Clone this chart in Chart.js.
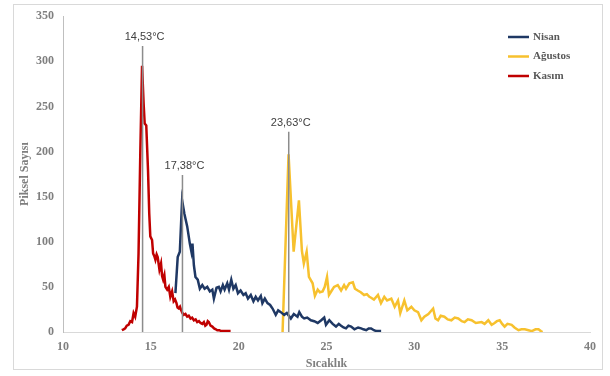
<!DOCTYPE html>
<html>
<head>
<meta charset="utf-8">
<script src="https://cdn.jsdelivr.net/npm/chart.js@4.4.0/dist/chart.umd.min.js"></script>
<style>
  html, body { margin: 0; padding: 0; background: #fff; }
  canvas { display: block; }
</style>
</head>
<body>
<canvas id="chart" width="610" height="376"></canvas>
<script>
// Kasım
const kasimTemp = [13.35, 13.45, 13.54, 13.63, 13.73, 13.83, 13.93, 14.02, 14.11, 14.21, 14.30, 14.40, 14.50, 14.59, 14.65, 14.74, 14.84, 14.91, 14.97, 15.07, 15.13, 15.20, 15.26, 15.33, 15.39, 15.49, 15.58, 15.64, 15.70, 15.77, 15.83, 15.93, 16.02, 16.11, 16.21, 16.30, 16.38, 16.46, 16.52, 16.59, 16.66, 16.73, 16.80, 16.87, 16.97, 17.07, 17.16, 17.26, 17.35, 17.45, 17.55, 17.64, 17.74, 17.83, 17.93, 18.02, 18.10, 18.17, 18.24, 18.30, 18.40, 18.50, 18.60, 18.70, 18.78, 18.90, 19.00, 19.16, 19.35, 19.54];
const kasimCount = [2, 3, 4, 7, 8, 12, 11, 21, 17, 28, 87, 198, 295, 253, 231, 229, 179, 131, 106, 102, 87, 84, 80, 86, 83, 69, 76, 62, 58, 63, 50, 47, 50, 39, 45, 34, 36, 32, 27, 26, 28, 24, 21, 19, 20, 17, 18, 15, 16, 13, 14, 11, 12, 10, 9, 11, 7, 8, 12, 11, 7, 6, 4, 3, 2, 2, 1, 1, 1, 1];

// Nisan
const nisanTemp = [16.40, 16.53, 16.65, 16.78, 16.91, 17.07, 17.22, 17.31, 17.37, 17.45, 17.54, 17.67, 17.79, 17.93, 18.06, 18.21, 18.36, 18.50, 18.59, 18.74, 18.87, 18.97, 19.10, 19.20, 19.35, 19.45, 19.58, 19.70, 19.83, 19.96, 20.11, 20.27, 20.40, 20.53, 20.69, 20.84, 20.97, 21.10, 21.26, 21.35, 21.49, 21.64, 21.79, 21.93, 22.11, 22.25, 22.40, 22.59, 22.74, 22.97, 23.14, 23.35, 23.45, 23.60, 23.73, 23.90, 24.11, 24.30, 24.50, 24.70, 24.87, 24.97, 25.16, 25.35, 25.54, 25.70, 25.83, 25.97, 26.11, 26.25, 26.40, 26.59, 26.80, 26.97, 27.10, 27.26, 27.40, 27.54, 27.70, 27.83, 28.11];
const nisanCount = [43, 83, 89, 146, 131, 117, 98, 89, 98, 74, 61, 58, 48, 52, 48, 50, 45, 47, 37, 49, 50, 45, 52, 47, 54, 47, 58, 48, 52, 43, 46, 41, 43, 37, 41, 34, 39, 35, 40, 32, 37, 32, 30, 26, 19, 24, 22, 19, 21, 15, 20, 17, 22, 17, 15, 16, 13, 12, 10, 13, 16, 8, 13, 9, 6, 9, 7, 5, 4, 7, 6, 3, 5, 4, 3, 2, 4, 4, 2, 1, 1];

// Ağustos
const agustosTemp = [22.50, 22.84, 23.13, 23.43, 23.60, 23.71, 23.87, 24.00, 24.21, 24.34, 24.50, 24.62, 24.78, 24.90, 25.03, 25.14, 25.30, 25.43, 25.64, 25.83, 26.00, 26.11, 26.30, 26.50, 26.62, 26.78, 26.95, 27.14, 27.30, 27.44, 27.54, 27.70, 27.93, 28.10, 28.29, 28.45, 28.69, 28.88, 29.07, 29.20, 29.43, 29.60, 29.83, 30.00, 30.21, 30.40, 30.57, 30.80, 31.07, 31.20, 31.35, 31.50, 31.71, 31.90, 32.11, 32.30, 32.50, 32.70, 32.86, 33.05, 33.26, 33.50, 33.83, 34.00, 34.21, 34.40, 34.57, 34.70, 34.86, 35.00, 35.14, 35.30, 35.54, 35.70, 35.93, 36.10, 36.29, 36.50, 36.69, 36.90, 37.07, 37.20, 37.30];
const agustosCount = [0, 197, 89, 146, 90, 76, 89, 61, 54, 40, 47, 44, 45, 50, 61, 41, 46, 50, 52, 46, 52, 48, 54, 55, 48, 46, 44, 41, 42, 39, 38, 36, 41, 32, 39, 35, 37, 28, 35, 21, 35, 24, 28, 24, 22, 13, 17, 20, 26, 15, 13, 18, 17, 14, 13, 16, 15, 12, 11, 14, 13, 10, 11, 9, 13, 8, 10, 12, 13, 9, 6, 9, 8, 5, 2, 3, 3, 2, 1, 3, 3, 1, 0];

const seriesNames = ['Nisan', 'Ağustos', 'Kasım'];
const seriesColors = ['#1f3864', '#f7c12e', '#c00000'];

// peak markers
const peakTemps = [14.53, 16.8, 22.85];
const peakTops = [317, 174, 222];
const peakLabels = ['14,53°C', '17,38°C', '23,63°C'];

const xTicks = [10, 15, 20, 25, 30, 35, 40];
const yTicks = [0, 50, 100, 150, 200, 250, 300, 350];

function toPoints(temps, counts) {
  return temps.map((t, i) => ({ x: t, y: counts[i] }));
}

const markerDatasets = peakTemps.map((t, i) => ({
  label: peakLabels[i],
  data: [{ x: t, y: 0 }, { x: t, y: peakTops[i] }],
  borderColor: '#8c8c8c',
  borderWidth: 1.5,
  pointRadius: 0,
  order: 0,
}));

const seriesData = [toPoints(nisanTemp, nisanCount), toPoints(agustosTemp, agustosCount), toPoints(kasimTemp, kasimCount)];

const seriesDatasets = seriesNames.map((name, i) => ({
  label: name,
  data: seriesData[i],
  borderColor: seriesColors[i],
  borderWidth: 2.5,
  pointRadius: 0,
  tension: 0,
  order: 1 + i,
}));

const framePlugin = {
  id: 'frame',
  beforeDraw(chart) {
    const { ctx } = chart;
    ctx.save();
    ctx.fillStyle = '#ffffff';
    ctx.fillRect(0, 0, chart.width, chart.height);
    ctx.strokeStyle = '#d9d9d9';
    ctx.lineWidth = 1;
    ctx.strokeRect(13.5, 4.5, 589, 365);
    ctx.restore();
  },
};

const peakLabelPlugin = {
  id: 'peakLabels',
  afterDatasetsDraw(chart) {
    const { ctx, scales } = chart;
    ctx.save();
    ctx.font = '11px "Liberation Sans", Arial, sans-serif';
    ctx.fillStyle = '#404040';
    ctx.textAlign = 'center';
    ctx.textBaseline = 'middle';
    peakTemps.forEach((t, i) => {
      const px = scales.x.getPixelForValue(t);
      const py = scales.y.getPixelForValue(peakTops[i]);
      ctx.fillText(peakLabels[i], px + 2, py - 9);
    });
    ctx.restore();
  },
};

const legendPlugin = {
  id: 'sideLegend',
  afterDraw(chart) {
    const { ctx } = chart;
    ctx.save();
    ctx.font = 'bold 11px "Liberation Serif", "DejaVu Serif", serif';
    ctx.textBaseline = 'middle';
    seriesNames.forEach((name, i) => {
      const y = 37 + i * 19.5;
      ctx.strokeStyle = seriesColors[i];
      ctx.lineWidth = 2.5;
      ctx.beginPath();
      ctx.moveTo(508, y);
      ctx.lineTo(529, y);
      ctx.stroke();
      ctx.fillStyle = '#595959';
      ctx.fillText(name, 533, y);
    });
    ctx.restore();
  },
};

const tickFont = { family: '"Liberation Serif", "DejaVu Serif", serif', size: 12, weight: 'bold' };

new Chart(document.getElementById('chart'), {
  type: 'line',
  data: { datasets: [...markerDatasets, ...seriesDatasets] },
  options: {
    responsive: false,
    animation: false,
    layout: { padding: { top: 16, right: 20, left: 0, bottom: 0 } },
    plugins: { legend: { display: false }, tooltip: { enabled: false } },
    scales: {
      x: {
        type: 'linear',
        min: 10,
        max: 40,
        afterBuildTicks: (scale) => { scale.ticks = xTicks.map((v) => ({ value: v })); },
        afterFit: (scale) => { scale.height = 44; },
        grid: { display: false, drawTicks: false },
        border: { display: true, color: '#d9d9d9', width: 1 },
        ticks: { color: '#7f7f7f', font: tickFont, padding: 8, maxRotation: 0 },
        title: { display: true, text: 'Sıcaklık', color: '#7f7f7f', font: tickFont, padding: { top: 0, bottom: 5 } },
      },
      y: {
        min: 0,
        max: 350,
        afterBuildTicks: (scale) => { scale.ticks = yTicks.map((v) => ({ value: v })); },
        afterFit: (scale) => { scale.width = 63; },
        grid: { display: false, drawTicks: false },
        border: { display: true, color: '#bfbfbf', width: 1 },
        ticks: { color: '#7f7f7f', font: tickFont, padding: 9 },
        title: { display: true, text: 'Piksel Sayısı', color: '#7f7f7f', font: tickFont, padding: { top: 18, bottom: 0 } },
      },
    },
  },
  plugins: [framePlugin, peakLabelPlugin, legendPlugin],
});
</script>
</body>
</html>
